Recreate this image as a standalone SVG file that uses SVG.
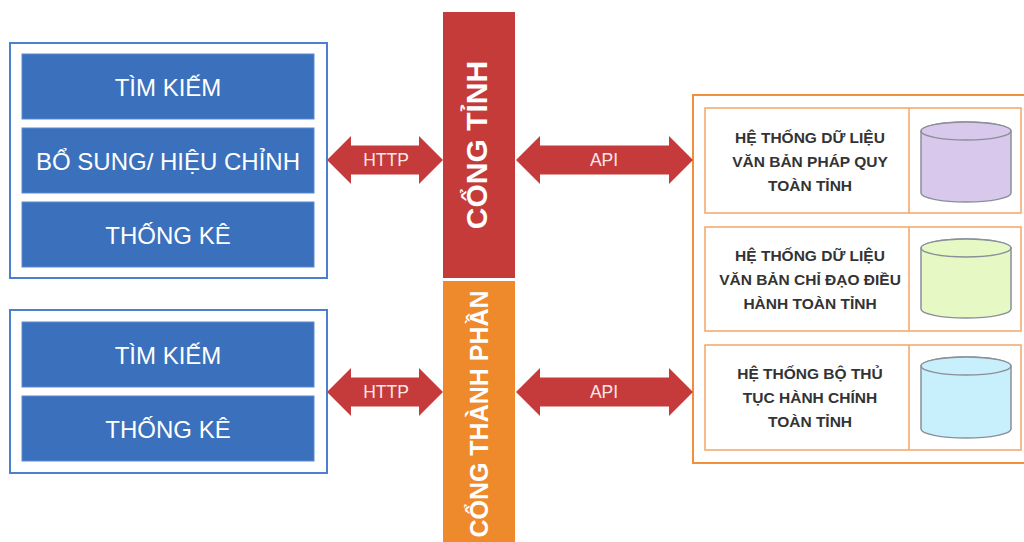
<svg xmlns="http://www.w3.org/2000/svg" width="1024" height="542" viewBox="0 0 1024 542">
<style>
.outerL{fill:#fff;stroke:#4a80cc;stroke-width:2}
.btn{fill:#3a70bc;stroke:#5a8ad0;stroke-width:1}
.btxt{font-family:"Liberation Sans",Arial,sans-serif;font-size:24px;fill:#fff;text-anchor:middle}
.arrow{fill:#c53a3a}
.atxt{font-family:"Liberation Sans",Arial,sans-serif;font-size:17.5px;fill:#fbe6e6;text-anchor:middle}
.outerR{fill:#fff;stroke:#f0903a;stroke-width:2}
.row{fill:#fff;stroke:#f4a566;stroke-width:1.5}
.rtxt{font-family:"Liberation Sans",Arial,sans-serif;font-size:15.5px;font-weight:bold;fill:#333;text-anchor:middle}
.cyl{stroke:#8a8f99;stroke-width:1.5}
.vtxt{font-family:"Liberation Sans",Arial,sans-serif;fill:#fff;text-anchor:middle}
</style>
<rect width="1024" height="542" fill="#fff"/>

<g id="client-top">
<rect class="outerL" x="10" y="43" width="317" height="235"/>
<rect class="btn" x="22" y="54" width="292" height="65"/>
<text class="btxt" x="168" y="96">TÌM KIẾM</text>
<rect class="btn" x="22" y="128" width="292" height="65"/>
<text class="btxt" x="168" y="170">BỔ SUNG/ HIỆU CHỈNH</text>
<rect class="btn" x="22" y="202" width="292" height="65"/>
<text class="btxt" x="168" y="244">THỐNG KÊ</text>
</g>

<g id="client-bottom">
<rect class="outerL" x="10" y="310" width="317" height="163"/>
<rect class="btn" x="22" y="322" width="292" height="65"/>
<text class="btxt" x="168" y="364">TÌM KIẾM</text>
<rect class="btn" x="22" y="396" width="292" height="65"/>
<text class="btxt" x="168" y="438">THỐNG KÊ</text>
</g>

<g id="cong-tinh">
<rect x="443" y="12" width="72" height="266" fill="#c43b3a"/>
<text class="vtxt" font-size="30" font-weight="bold" transform="translate(487,145) rotate(-90)">CỔNG TỈNH</text>
</g>

<g id="cong-thanh-phan">
<rect x="443" y="281" width="72" height="265" fill="#ee8a2c"/>
<text class="vtxt" font-size="25" font-weight="bold" transform="translate(488,414) rotate(-90)">CỔNG THÀNH PHẦN</text>
</g>

<g id="data-systems">
<rect class="outerR" x="693" y="95" width="345" height="368"/>
<g id="sys-1">
<rect class="row" x="705" y="108" width="316" height="105"/>
<line x1="909" y1="108" x2="909" y2="213" stroke="#f4a566" stroke-width="1.5"/>
<text class="rtxt" x="810" y="143">HỆ THỐNG DỮ LIỆU</text>
<text class="rtxt" x="810" y="167">VĂN BẢN PHÁP QUY</text>
<text class="rtxt" x="810" y="191">TOÀN TỈNH</text>
<path class="cyl" fill="#d8c8ec" d="M921,131 V193 A45,9 0 0 0 1011,193 V131 A45,9 0 0 0 921,131 Z"/>
<ellipse class="cyl" fill="#d8c8ec" cx="966" cy="131" rx="45" ry="9"/>
</g>
<g id="sys-2">
<rect class="row" x="705" y="227" width="316" height="104"/>
<line x1="909" y1="227" x2="909" y2="331" stroke="#f4a566" stroke-width="1.5"/>
<text class="rtxt" x="810" y="261">HỆ THỐNG DỮ LIỆU</text>
<text class="rtxt" x="810" y="285">VĂN BẢN CHỈ ĐẠO ĐIỀU</text>
<text class="rtxt" x="810" y="309">HÀNH TOÀN TỈNH</text>
<path class="cyl" fill="#e6f9c4" d="M921,248 V309 A45,9 0 0 0 1011,309 V248 A45,9 0 0 0 921,248 Z"/>
<ellipse class="cyl" fill="#e6f9c4" cx="966" cy="248" rx="45" ry="9"/>
</g>
<g id="sys-3">
<rect class="row" x="705" y="345" width="316" height="105"/>
<line x1="909" y1="345" x2="909" y2="450" stroke="#f4a566" stroke-width="1.5"/>
<text class="rtxt" x="810" y="379">HỆ THỐNG BỘ THỦ</text>
<text class="rtxt" x="810" y="403">TỤC HÀNH CHÍNH</text>
<text class="rtxt" x="810" y="427">TOÀN TỈNH</text>
<path class="cyl" fill="#c8f0fc" d="M921,366 V429 A45,9 0 0 0 1011,429 V366 A45,9 0 0 0 921,366 Z"/>
<ellipse class="cyl" fill="#c8f0fc" cx="966" cy="366" rx="45" ry="9"/>
</g>
</g>

<g id="connectors">
<polygon class="arrow" points="327,160 351,136 351,145.5 419,145.5 419,136 443,160 419,184 419,174.5 351,174.5 351,184"/>
<text class="atxt" x="386" y="166">HTTP</text>
<polygon class="arrow" points="516,160 540,136 540,145.5 669,145.5 669,136 693,160 669,184 669,174.5 540,174.5 540,184"/>
<text class="atxt" x="604" y="166">API</text>
<polygon class="arrow" points="327,392 351,368 351,377.5 419,377.5 419,368 443,392 419,416 419,406.5 351,406.5 351,416"/>
<text class="atxt" x="386" y="398">HTTP</text>
<polygon class="arrow" points="516,392 540,368 540,377.5 669,377.5 669,368 693,392 669,416 669,406.5 540,406.5 540,416"/>
<text class="atxt" x="604" y="398">API</text>
</g>
</svg>
